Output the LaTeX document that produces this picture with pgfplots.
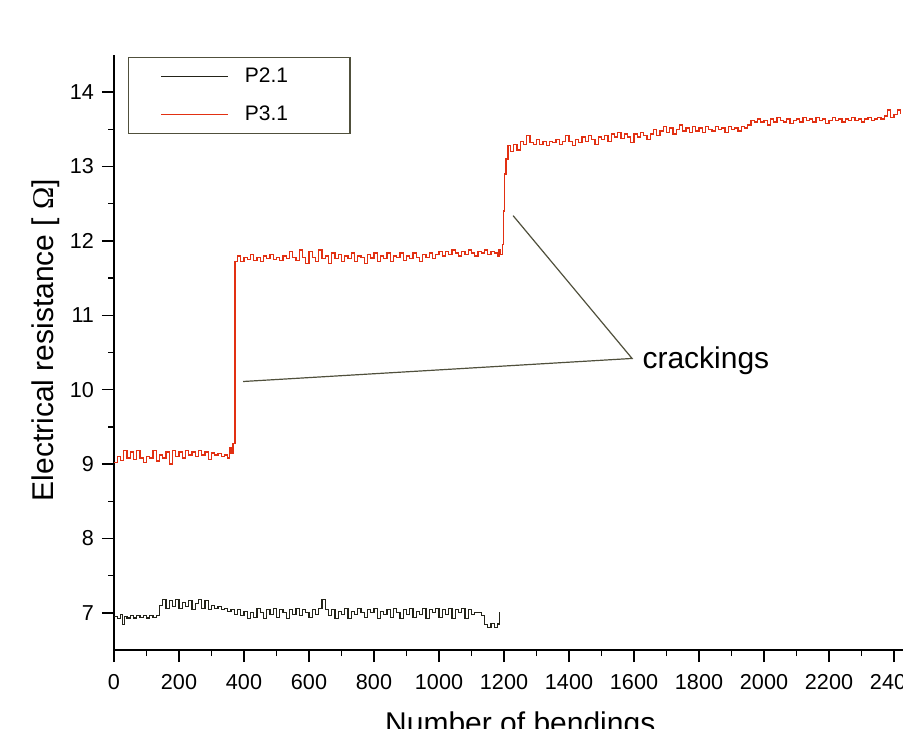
\documentclass[border=0pt]{standalone}
\usepackage{fontspec}
\setmainfont{Liberation Sans}
\newfontfamily\omegafont{Liberation Serif}
\usepackage{pgfplots}
\pgfplotsset{compat=1.18}
\definecolor{redline}{RGB}{226,48,18}
\definecolor{darkline}{RGB}{35,35,25}
\definecolor{annot}{RGB}{80,80,60}
\begin{document}
\begin{tikzpicture}
\path[use as bounding box, clip] (0,0) rectangle (451.5pt,364pt);
\begin{axis}[
  at={(57pt,39pt)}, anchor=south west,
  scale only axis, width=406.25pt, height=297.5pt,
  xmin=0, xmax=2500, ymin=6.5, ymax=14.5,
  axis x line*=bottom, axis y line*=left,
  axis line style={-, line width=0.75pt, black},
  xtick={0,200,...,2400}, ytick={7,...,14},
  minor x tick num=1, minor y tick num=1,
  tick align=outside,
  major tick length=6pt, minor tick length=3pt,
  tick style={line width=0.75pt, black},
  /pgf/number format/assume math mode=true,
  /pgf/number format/1000 sep={},
  tick label style={font=\fontsize{10.8}{13}\selectfont},
  xticklabel style={yshift=-2.5pt},
  yticklabel style={xshift=-0.5pt},
  xlabel={Number of bendings},
  ylabel={Electrical resistance [ {\omegafont Ω}]},
  label style={font=\fontsize{15}{18}\selectfont},
  xlabel style={at={(axis description cs:0.5,-0.140)}, anchor=base},
  ylabel style={at={(axis description cs:-0.075,0.521)}, anchor=base},
  legend style={at={(rel axis cs:0.0172,0.9966)}, anchor=north west,
    draw=annot, line width=0.6pt, fill=white, inner xsep=0pt, inner ysep=0pt,
    font=\fontsize{10.5}{12}\selectfont, row sep=0pt,
    nodes={inner sep=0pt, minimum height=19pt}},
  legend cell align=left,
  legend image code/.code={\draw[#1, line width=0.6pt] (16pt,0pt) -- (49.5pt,0pt); \path (0pt,0pt) (57.5pt,0pt);},
]
\addplot[const plot, darkline, line width=0.55pt] coordinates {
(0,6.95)(10,6.92)(20,6.98)(25,6.84)(32,6.95)(40,6.93)(50,6.96)(60,6.93)(70,6.96)(80,6.94)
(90,6.96)(100,6.93)(110,6.96)(120,6.94)(130,6.96)(140,7.10)(150,7.18)(160,7.06)(170,7.16)(180,7.08)
(190,7.18)(200,7.06)(210,7.14)(220,7.08)(230,7.16)(240,7.04)(250,7.12)(260,7.18)(270,7.06)(280,7.16)
(290,7.04)(300,7.10)(310,7.06)(320,7.08)(330,7.04)(340,7.06)(350,7.02)(360,7.05)(370,6.98)(380,7.04)
(390,6.96)(400,7.02)(410,6.92)(420,7.00)(430,6.94)(440,7.06)(450,7.00)(460,6.92)(470,7.04)(480,6.98)
(490,7.06)(500,6.94)(510,7.04)(520,7.00)(530,6.92)(540,7.04)(550,6.98)(560,7.06)(570,6.96)(580,7.04)
(590,7.00)(600,6.94)(610,7.04)(620,6.98)(630,7.06)(640,7.18)(650,7.04)(660,6.96)(670,7.04)(680,6.92)
(690,7.02)(700,6.98)(710,7.06)(720,6.92)(730,7.02)(740,6.98)(750,7.06)(760,7.00)(770,6.94)(780,7.04)
(790,7.00)(800,7.06)(810,6.92)(820,7.02)(830,6.98)(840,7.04)(850,6.94)(860,7.06)(870,7.00)(880,6.92)
(890,7.04)(900,6.98)(910,7.06)(920,6.94)(930,7.02)(940,6.98)(950,7.06)(960,6.92)(970,7.04)(980,7.00)
(990,7.06)(1000,6.94)(1010,7.04)(1020,6.98)(1030,7.06)(1040,6.92)(1050,7.04)(1060,7.00)(1070,7.06)(1080,6.92)
(1090,7.04)(1100,6.98)(1110,7.00)(1130,6.96)(1140,6.84)(1150,6.80)(1160,6.86)(1170,6.80)(1180,6.85)(1185,7.00)(1188,7.00)
};
\addlegendentry{\makebox[52.5pt][l]{P2.1}}
\addplot[const plot, redline, line width=0.7pt] coordinates {
(0,9.02)(10,9.10)(20,9.05)(30,9.18)(40,9.08)(50,9.16)(60,9.06)(70,9.18)(80,9.08)(90,9.02)
(100,9.10)(110,9.08)(120,9.18)(130,9.04)(140,9.12)(150,9.08)(160,9.16)(170,9.00)(180,9.18)(190,9.10)
(200,9.16)(210,9.08)(220,9.18)(230,9.12)(240,9.16)(250,9.10)(260,9.18)(270,9.12)(280,9.16)(290,9.06)
(300,9.15)(310,9.12)(320,9.14)(330,9.10)(340,9.12)(350,9.08)(355,9.22)(360,9.14)(366,9.28)(372,11.72)
(380,11.80)(390,11.72)(400,11.78)(410,11.75)(420,11.82)(430,11.74)(440,11.78)(450,11.72)(460,11.80)(470,11.76)
(480,11.82)(490,11.75)(500,11.78)(510,11.74)(520,11.80)(530,11.76)(540,11.86)(550,11.78)(560,11.74)(570,11.88)
(580,11.78)(590,11.70)(600,11.86)(610,11.78)(620,11.72)(630,11.88)(640,11.76)(650,11.80)(660,11.70)(670,11.84)
(680,11.76)(690,11.82)(700,11.72)(710,11.80)(720,11.76)(730,11.84)(740,11.72)(750,11.80)(760,11.78)(770,11.70)
(780,11.82)(790,11.77)(800,11.84)(810,11.72)(820,11.80)(830,11.76)(840,11.84)(850,11.72)(860,11.80)(870,11.78)
(880,11.84)(890,11.74)(900,11.80)(910,11.76)(920,11.84)(930,11.78)(940,11.72)(950,11.82)(960,11.78)(970,11.84)
(980,11.76)(990,11.82)(1000,11.86)(1010,11.80)(1020,11.86)(1030,11.82)(1040,11.88)(1050,11.84)(1060,11.80)(1070,11.86)
(1080,11.82)(1090,11.88)(1100,11.84)(1110,11.80)(1120,11.86)(1130,11.84)(1140,11.88)(1150,11.82)(1160,11.86)(1170,11.84)
(1180,11.80)(1185,11.88)(1190,11.82)(1195,11.95)(1198,12.40)(1202,12.90)(1206,13.10)(1212,13.28)
(1220,13.20)(1230,13.30)(1240,13.22)(1250,13.34)(1260,13.30)(1270,13.42)(1280,13.32)(1290,13.30)(1300,13.36)(1310,13.30)
(1320,13.34)(1330,13.28)(1340,13.34)(1350,13.32)(1360,13.36)(1370,13.30)(1380,13.34)(1390,13.42)(1400,13.34)(1410,13.28)
(1420,13.36)(1430,13.32)(1440,13.40)(1450,13.34)(1460,13.42)(1470,13.36)(1480,13.30)(1490,13.40)(1500,13.36)(1510,13.42)
(1520,13.34)(1530,13.44)(1540,13.40)(1550,13.46)(1560,13.38)(1570,13.44)(1580,13.40)(1590,13.32)(1600,13.44)(1610,13.40)
(1620,13.46)(1630,13.42)(1640,13.36)(1650,13.44)(1660,13.50)(1670,13.42)(1680,13.48)(1690,13.54)(1700,13.46)(1710,13.52)
(1720,13.44)(1730,13.50)(1740,13.56)(1750,13.48)(1760,13.52)(1770,13.46)(1780,13.54)(1790,13.48)(1800,13.52)(1810,13.46)
(1820,13.54)(1830,13.50)(1840,13.48)(1850,13.54)(1860,13.50)(1870,13.52)(1880,13.46)(1890,13.54)(1900,13.50)(1910,13.52)
(1920,13.48)(1930,13.54)(1940,13.52)(1950,13.56)(1960,13.62)(1970,13.60)(1980,13.64)(1990,13.60)(2000,13.62)(2010,13.56)
(2020,13.64)(2030,13.60)(2040,13.66)(2050,13.62)(2060,13.60)(2070,13.64)(2080,13.58)(2090,13.62)(2100,13.64)(2110,13.60)
(2120,13.66)(2130,13.62)(2140,13.64)(2150,13.60)(2160,13.66)(2170,13.62)(2180,13.64)(2190,13.58)(2200,13.62)(2210,13.66)
(2220,13.62)(2230,13.64)(2240,13.60)(2250,13.64)(2260,13.62)(2270,13.66)(2280,13.62)(2290,13.64)(2300,13.60)(2310,13.64)
(2320,13.66)(2330,13.62)(2340,13.64)(2350,13.66)(2360,13.64)(2370,13.68)(2380,13.76)(2390,13.66)(2400,13.70)(2410,13.76)(2420,13.70)
};
\addlegendentry{\makebox[52.5pt][l]{P3.1}}
\draw[annot, line width=0.6pt] (axis cs:1228,12.34) -- (axis cs:1594,10.42) -- (axis cs:397,10.11);
\node[anchor=base west, inner sep=0pt, font=\fontsize{15}{18}\selectfont] at (axis cs:1625,10.28) {crackings};
\end{axis}
\end{tikzpicture}
\end{document}
